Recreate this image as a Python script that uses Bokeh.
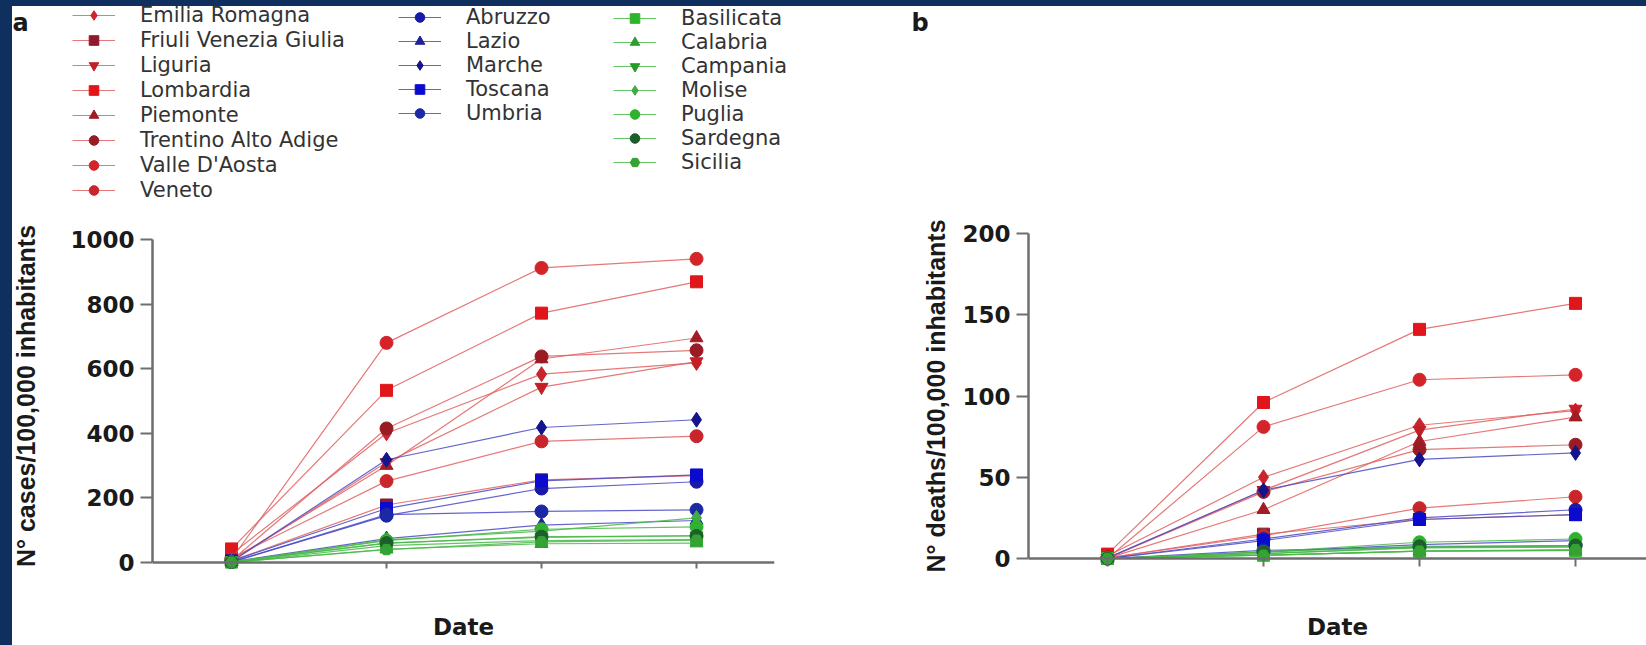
from bokeh.plotting import figure
from bokeh.models import Legend, LegendItem, FixedTicker, Range1d, LinearAxis, Label
from bokeh.layouts import row, column
from bokeh.embed import file_html
from bokeh.resources import INLINE

# ---------------- data ----------------
dates = ["8 March", "8 April", "3 May", "24 May"]
date_pos = [0, 1, 2, 3]

regions = ["Emilia Romagna", "Friuli Venezia Giulia", "Liguria", "Lombardia", "Piemonte",
           "Trentino Alto Adige", "Valle D'Aosta", "Veneto",
           "Abruzzo", "Lazio", "Marche", "Toscana", "Umbria",
           "Basilicata", "Calabria", "Campania", "Molise", "Puglia", "Sardegna", "Sicilia"]

# N° cases / 100,000 inhabitants at each date
cases = [
    [26, 400, 583, 618],   # Emilia Romagna
    [5, 178, 256, 269],    # Friuli Venezia Giulia
    [3, 310, 543, 622],    # Liguria
    [42, 533, 772, 869],   # Lombardia
    [8, 300, 630, 695],    # Piemonte
    [6, 415, 638, 657],    # Trentino Alto Adige
    [10, 680, 912, 940],   # Valle D'Aosta
    [14, 252, 375, 391],   # Veneto
    [1, 145, 229, 250],    # Abruzzo
    [2, 74, 116, 130],     # Lazio
    [3, 318, 418, 442],    # Marche
    [5, 167, 253, 271],    # Toscana
    [2, 148, 158, 163],    # Umbria
    [0, 52, 68, 71],       # Basilicata
    [1, 41, 58, 60],       # Calabria
    [2, 60, 78, 83],       # Campania
    [1, 70, 97, 138],      # Molise
    [1, 68, 103, 110],     # Puglia
    [1, 60, 80, 82],       # Sardegna
    [1, 40, 64, 69],       # Sicilia
]

# N° deaths / 100,000 inhabitants at each date
deaths = [
    [1.5, 50, 82, 91],     # Emilia Romagna
    [0.3, 15, 24, 27],     # Friuli Venezia Giulia
    [0.2, 42, 79, 92],     # Liguria
    [2.7, 96, 141, 157],   # Lombardia
    [0.2, 30, 72, 87],     # Piemonte
    [0.2, 41, 67, 70],     # Trentino Alto Adige
    [0.0, 81, 110, 113],   # Valle D'Aosta
    [0.4, 14, 31, 38],     # Veneto
    [0.0, 12, 25, 30],     # Abruzzo
    [0.0, 4, 8.5, 11],     # Lazio
    [0.4, 42, 61, 65],     # Marche
    [0.0, 11, 24, 27],     # Toscana
    [0.0, 5, 7, 8],        # Umbria
    [0.0, 2, 4.5, 5],      # Basilicata
    [0.0, 2, 4.5, 5],      # Calabria
    [0.0, 3, 6.5, 7],      # Campania
    [0.0, 3, 7, 7.5],      # Molise
    [0.0, 4, 10, 12],      # Puglia
    [0.0, 4, 7.5, 8],      # Sardegna
    [0.0, 2, 4.5, 5.5],    # Sicilia
]

cases_ticks = [0, 200, 400, 600, 800, 1000]
deaths_ticks = [0, 50, 100, 150, 200]

# ---------------- styles ----------------
markers = ["diamond", "square", "inverted_triangle", "square", "triangle", "circle", "circle", "circle",
           "circle", "triangle", "diamond", "square", "circle",
           "square", "triangle", "inverted_triangle", "diamond", "circle", "circle", "hex"]
sizes = {"circle": 13, "square": 12, "triangle": 13, "inverted_triangle": 13, "diamond": 15, "hex": 12}
colors = ["#c9252c", "#8e1b2c", "#c41e26", "#e0161b", "#a21c26", "#991c25", "#d5232a", "#c8262b",
          "#1a1aa8", "#20209a", "#14148c", "#0b0bd0", "#1c28a6",
          "#2bb52b", "#2e9e2e", "#279a27", "#45aa45", "#2fb32f", "#1d5e2b", "#34a334"]
line_colors = ["#e06060"] * 8 + ["#4a4ac4"] * 5 + ["#49b849"] * 7

NAVY = "#0f2f5e"
AXIS_GRAY = "#6e6e6e"
TXT = "#1a1a1a"
W = 1646
TOP_H = 205
BOT_H = 440
FRAME_TOP = 18       # page y 223
FRAME_BOTTOM = 77    # page y 568


def make_panel(values, width, bl, br, xr, yr, ticks, ylabel, ylab_standoff):
    p = figure(width=width, height=BOT_H, x_range=Range1d(*xr), y_range=Range1d(*yr),
               output_backend="svg", toolbar_location=None,
               min_border_left=bl, min_border_right=br,
               min_border_top=FRAME_TOP, min_border_bottom=FRAME_BOTTOM)
    p.grid.visible = False
    p.outline_line_color = None
    p.border_fill_alpha = 0
    p.background_fill_alpha = 0

    # x axis drawn at y = 0
    xa = p.xaxis[0]
    xa.fixed_location = 0
    xa.ticker = FixedTicker(ticks=date_pos, minor_ticks=[])
    xa.major_label_overrides = {k: d for k, d in zip(date_pos, dates)}
    xa.axis_line_color = AXIS_GRAY
    xa.axis_line_width = 2.5
    xa.major_tick_line_color = AXIS_GRAY
    xa.major_tick_line_width = 2
    xa.major_tick_in = 0
    xa.major_tick_out = 8
    xa.major_label_standoff = 1
    xa.major_label_text_font = "DejaVu Sans"
    xa.major_label_text_font_style = "bold"
    xa.major_label_text_font_size = "23px"
    xa.major_label_text_color = TXT

    # axis title "Date"
    da = LinearAxis(axis_label="Date", ticker=FixedTicker(ticks=[], minor_ticks=[]),
                    axis_line_color=None, major_tick_line_color=None, minor_tick_line_color=None,
                    major_tick_out=0, minor_tick_out=0, major_tick_in=0, minor_tick_in=0,
                    axis_label_standoff=45,
                    axis_label_text_font="DejaVu Sans", axis_label_text_font_style="bold",
                    axis_label_text_font_size="23px", axis_label_text_color=TXT)
    p.add_layout(da, "below")

    ya = p.yaxis[0]
    ya.ticker = FixedTicker(ticks=ticks, minor_ticks=[])
    ya.bounds = (ticks[0], ticks[-1])
    ya.axis_line_color = AXIS_GRAY
    ya.axis_line_width = 2.5
    ya.major_tick_line_color = AXIS_GRAY
    ya.major_tick_line_width = 2
    ya.major_tick_in = 0
    ya.major_tick_out = 12
    ya.major_label_standoff = 6
    ya.major_label_text_font = "DejaVu Sans"
    ya.major_label_text_font_style = "bold"
    ya.major_label_text_font_size = "23px"
    ya.major_label_text_color = TXT
    ya.axis_label = ylabel
    ya.axis_label_standoff = ylab_standoff
    ya.axis_label_text_font = "Liberation Sans"
    ya.axis_label_text_font_style = "bold"
    ya.axis_label_text_font_size = "25px"
    ya.axis_label_text_color = TXT

    for i, reg in enumerate(regions):
        p.line(date_pos, values[i], line_color=line_colors[i], line_width=1.2, line_alpha=0.85)
        p.scatter(date_pos, values[i], marker=markers[i], size=sizes[markers[i]],
                  fill_color=colors[i], line_color=colors[i], line_width=1)
    return p


# panel a: frame x 152..774; 0 -> page 562, 1000 -> page 239 (frame 223..568)
pa = make_panel(cases, 860, 152, 86,
                (-0.5097, 3.503), (-18.58, 1049.5), cases_ticks,
                "N° cases/100,000 inhabitants", 27)
# panel b: frame x 1028..1646; 0 -> page 558, 200 -> page 233
pb = make_panel(deaths, 786, 168, 0,
                (-0.5064, 3.455), (-6.15, 206.15), deaths_ticks,
                "N° deaths/100,000 inhabitants", 9)

# ---------------- top strip: legend + panel letters ----------------
# the strip's x range lies away from the data, so its key renderers only feed the legend
top = figure(width=W, height=TOP_H, x_range=Range1d(1000, 1000 + W), y_range=Range1d(0, TOP_H),
             output_backend="svg", toolbar_location=None, x_axis_type=None, y_axis_type=None,
             min_border_left=0, min_border_right=0, min_border_top=0, min_border_bottom=0)
top.grid.visible = False
top.outline_line_color = None
top.border_fill_alpha = 0
top.background_fill_alpha = 0

key_renderers = []
for i, reg in enumerate(regions):
    lr = top.line(date_pos, cases[i], line_color=line_colors[i], line_width=1.2, line_alpha=0.85)
    sr = top.scatter(date_pos, cases[i], marker=markers[i], fill_color=colors[i],
                     line_color=colors[i], line_width=1)
    key_renderers.append((lr, sr))


def add_legend(idx, loc, gh, sp):
    items = [LegendItem(label=regions[i], renderers=[key_renderers[i][0], key_renderers[i][1]]) for i in idx]
    lg = Legend(items=items, location=loc, orientation="vertical",
                glyph_width=43, glyph_height=gh, label_height=gh, spacing=sp,
                padding=0, margin=0, label_standoff=25,
                label_text_font="DejaVu Sans", label_text_font_size="21px",
                label_text_color="#333333", border_line_color=None,
                background_fill_alpha=0)
    top.add_layout(lg)


add_legend(range(0, 8), (72, 3), 24, 1)
add_legend(range(8, 13), (398, 80), 24, -1)
add_legend(range(13, 20), (613, 31), 24, -1)

top.add_layout(Label(x=12, y=TOP_H - 22, x_units="screen", y_units="screen", text="a",
                     text_font="DejaVu Sans", text_font_style="bold", text_font_size="24px",
                     text_color=TXT, text_baseline="alphabetic"))
top.add_layout(Label(x=911, y=TOP_H - 22, x_units="screen", y_units="screen", text="b",
                     text_font="DejaVu Sans", text_font_style="bold", text_font_size="24px",
                     text_color=TXT, text_baseline="alphabetic"))

layout = column(top, row(pa, pb),
                styles={"background-color": "white",
                        "box-shadow": "inset 12px 6px 0 0 " + NAVY})

open("out.html", "w").write(file_html(layout, INLINE))
